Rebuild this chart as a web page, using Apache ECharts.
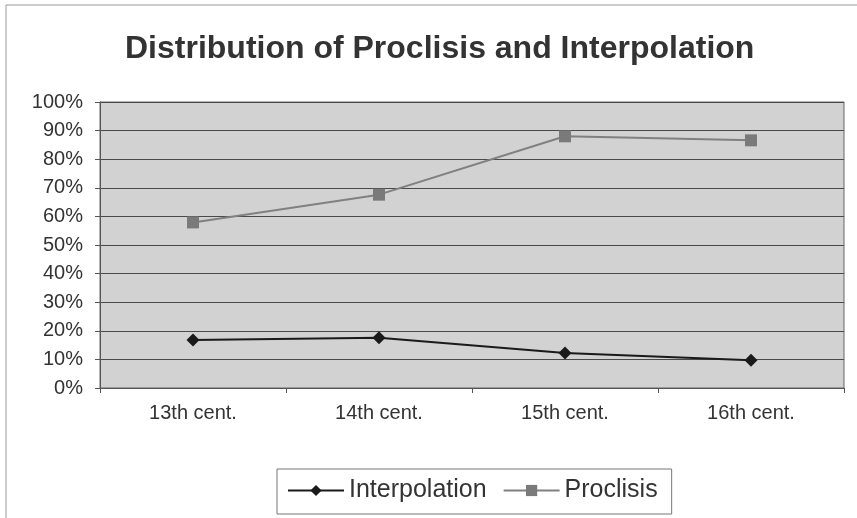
<!DOCTYPE html>
<html>
<head>
<meta charset="utf-8">
<script src="https://cdn.jsdelivr.net/npm/echarts@6/dist/echarts.min.js"></script>
<style>
	html, body { margin: 0; padding: 0; background: #fff; }
	#chart { width: 857px; height: 518px; }
</style>
</head>
<body>
<div id="chart"></div>
<script>
// values (percent)
var centuries = ['13th cent.', '14th cent.', '15th cent.', '16th cent.'];
var interpolation = [16.8, 17.6, 12.2, 9.7];
var proclisis = [57.9, 67.6, 88.0, 86.6];

var chart = echarts.init(document.getElementById('chart'));
var font = 'Liberation Sans, Arial, sans-serif';

var option = {
	animation: false,
	backgroundColor: '#fff',
	title: {
		text: 'Distribution of Proclisis and Interpolation',
		left: 120,
		top: 28,
		textStyle: {
			fontFamily: font,
			fontSize: 32,
			fontWeight: 'bold',
			color: '#333'
		}
	},
	graphic: [{
		type: 'rect',
		shape: { x: 6, y: 5, width: 900, height: 600 },
		style: { fill: 'none', stroke: '#999', lineWidth: 1 },
		silent: true,
		z: -1
	}],
	grid: {
		left: 100,
		right: 13,
		top: 102,
		bottom: 130,
		show: true,
		backgroundColor: '#d2d2d2',
		borderColor: '#666',
		borderWidth: 1
	},
	legend: {
		bottom: 4,
		left: 277,
		itemWidth: 56,
		itemHeight: 14,
		itemGap: 16,
		padding: [9, 14, 11, 10],
		borderColor: '#777',
		borderWidth: 1,
		textStyle: { fontFamily: font, fontSize: 25, color: '#333' },
		data: ['Interpolation', 'Proclisis']
	},
	xAxis: {
		type: 'category',
		data: centuries,
		boundaryGap: true,
		axisLine: { lineStyle: { color: '#555' } },
		axisTick: { show: true, length: 5, inside: false, lineStyle: { color: '#555' } },
		axisLabel: { fontFamily: font, fontSize: 20, color: '#333', margin: 15 }
	},
	yAxis: {
		type: 'value',
		min: 0,
		max: 100,
		interval: 10,
		axisLine: { show: true, lineStyle: { color: '#555' } },
		axisTick: { show: true, length: 5, lineStyle: { color: '#555' } },
		axisLabel: {
			fontFamily: font, fontSize: 20, color: '#333', margin: 17,
			formatter: function (v) { return v + '%'; }
		},
		splitLine: { show: true, lineStyle: { color: '#4a4a4a', width: 1 } }
	},
	series: [{
		name: 'Interpolation',
		type: 'line',
		data: interpolation,
		symbol: 'diamond',
		symbolSize: 13,
		itemStyle: { color: '#1a1a1a' },
		lineStyle: { color: '#1a1a1a', width: 2 }
	}, {
		name: 'Proclisis',
		type: 'line',
		data: proclisis,
		symbol: 'rect',
		symbolSize: 12,
		itemStyle: { color: '#7a7a7a' },
		lineStyle: { color: '#808080', width: 2 }
	}]
};

chart.setOption(option);
</script>
</body>
</html>
